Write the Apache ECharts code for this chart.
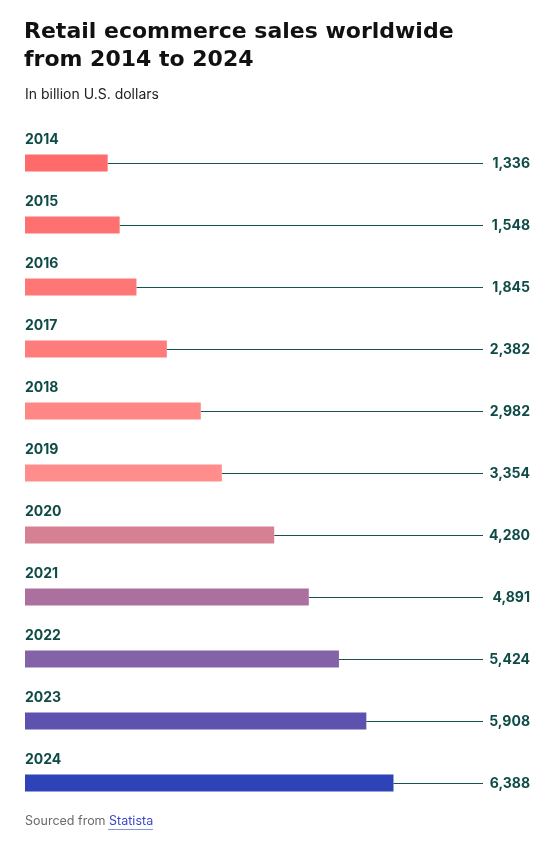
<!DOCTYPE html>
<html>
<head>
<meta charset="UTF-8">
<title>Retail ecommerce sales worldwide</title>
<script src="https://cdn.jsdelivr.net/npm/echarts@6/dist/echarts.min.js"></script>
<style>
  html, body { margin: 0; padding: 0; background: #fff; }
  #main { width: 560px; height: 846px; }
</style>
</head>
<body>
<div id="main"></div>
<script type="text/javascript">
var years = ['2014', '2015', '2016', '2017', '2018', '2019', '2020', '2021', '2022', '2023', '2024'];
var sales = [1336, 1548, 1845, 2382, 2982, 3354, 4280, 4891, 5424, 5908, 6388];
var barColors = ['#ff6b6b', '#ff7070', '#ff7676', '#ff7c7c', '#ff8886', '#ff8d8b',
                 '#d68094', '#ab709e', '#8462a8', '#5d53ae', '#2e43b8'];

var xMin = -125, xMax = 7970;
var ink = '#0e4b47';

var myChart = echarts.init(document.getElementById('main'));

// bar + leader line + labels, all placed from the axis scales
function renderRow(params, api) {
    var i = api.value(1);
    var v = api.value(0);
    var start = api.coord([xMin, i]);
    var end = api.coord([v, i]);
    var right = api.coord([xMax, i]);
    var h = 17;
    var cy = end[1];
    return {
        type: 'group',
        children: [
            { type: 'line', shape: { x1: end[0], y1: cy + 0.5, x2: right[0], y2: cy + 0.5 },
              style: { stroke: '#17544f', lineWidth: 1.2 } },
            { type: 'rect', shape: { x: start[0], y: cy - h / 2, width: end[0] - start[0], height: h },
              style: { fill: barColors[i] } },
            { type: 'text', style: { text: years[i], x: start[0], y: cy - 23, verticalAlign: 'middle',
              fill: ink, font: 'bold 14px Inter, "Noto Sans", sans-serif' } },
            { type: 'text', style: { text: echarts.format.addCommas(v), x: right[0] + 47, y: cy + 0.5,
              align: 'right', verticalAlign: 'middle', fill: ink, font: 'bold 14px Inter, "Noto Sans", sans-serif' } }
        ]
    };
}

option = {
    animation: false,
    title: [{
        text: 'Retail ecommerce sales worldwide\nfrom 2014 to 2024',
        left: 24,
        top: 18,
        padding: 0,
        textStyle: { fontFamily: 'DejaVu Sans', fontWeight: 'bold', fontSize: 22, lineHeight: 28, color: '#111' }
    }, {
        text: 'In billion U.S. dollars',
        left: 25,
        top: 88,
        padding: 0,
        textStyle: { fontFamily: 'Inter', fontWeight: 'normal', fontSize: 14, color: '#222' }
    }, {
        text: '{a|Sourced from }{b|Statista}',
        left: 25,
        top: 815,
        padding: 0,
        textStyle: {
            rich: {
                a: { fontFamily: 'Inter', fontWeight: 'normal', fontSize: 12.5, color: '#6b6b6b' },
                b: { fontFamily: 'Inter', fontWeight: 'normal', fontSize: 12.5, color: '#3a48c8' }
            }
        }
    }],
    graphic: [{
        type: 'line',
        shape: { x1: 108, y1: 829.5, x2: 153, y2: 829.5 },
        style: { stroke: '#8c95e0', lineWidth: 1 }
    }],
    grid: { left: 25, right: 77, top: 132, height: 682 },
    xAxis: { type: 'value', min: xMin, max: xMax, show: false },
    yAxis: { type: 'category', data: years, inverse: true, show: false },
    series: [{
        type: 'custom',
        renderItem: renderRow,
        encode: { x: 0, y: 1 },
        data: sales.map(function (v, i) { return [v, i]; })
    }]
};
myChart.setOption(option);
</script>
</body>
</html>
